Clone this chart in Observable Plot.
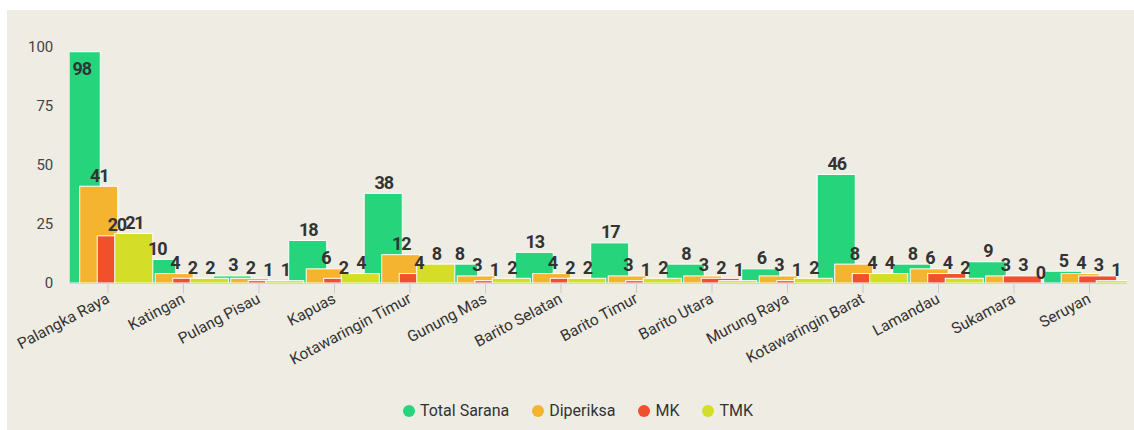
<!DOCTYPE html>
<html>
<head>
<meta charset="utf-8">
<script src="https://cdn.jsdelivr.net/npm/d3@7"></script>
<script src="https://cdn.jsdelivr.net/npm/@observablehq/plot@0.6"></script>
<style>
  html, body { margin: 0; padding: 0; background: #ffffff; }
  #panel { position: absolute; left: 7px; top: 10px; width: 1127px; height: 420px; background: #efece3; font-family: Roboto, sans-serif; }
  #legend { display: flex; justify-content: center; align-items: center; gap: 23px; margin-top: 16px; padding-left: 15px; font-size: 16px; color: #333; line-height: 20px; }
  .item { display: flex; align-items: center; gap: 5px; }
  .dot { width: 12px; height: 12px; border-radius: 50%; display: inline-block; }
  .vlabel text { letter-spacing: -1.2px; }
</style>
</head>
<body>
<div id="panel"><div id="chart"></div><div id="legend"></div></div>
<script>
const categories = ["Palangka Raya", "Katingan", "Pulang Pisau", "Kapuas", "Kotawaringin Timur", "Gunung Mas", "Barito Selatan", "Barito Timur", "Barito Utara", "Murung Raya", "Kotawaringin Barat", "Lamandau", "Sukamara", "Seruyan"];
const totalSarana = [98, 10, 3, 18, 38, 8, 13, 17, 8, 6, 46, 8, 9, 5];
const diperiksa   = [41, 4, 2, 6, 12, 3, 4, 3, 3, 3, 8, 6, 3, 4];
const mk          = [20, 2, 1, 2, 4, 1, 2, 1, 2, 1, 4, 4, 3, 3];
const tmk         = [21, 2, 1, 4, 8, 2, 2, 2, 1, 2, 4, 2, 0, 1];
const seriesNames = ["Total Sarana", "Diperiksa", "MK", "TMK"];
const seriesColors = ["#26d57b", "#f4b42f", "#f0502c", "#d4dd27"];
const yTicks = [0, 25, 50, 75, 100];

const seriesValues = [totalSarana, diperiksa, mk, tmk];
const spacing = 0.232, halfWidth = 0.252;
const rows = [];
seriesValues.forEach((vals, k) => {
  vals.forEach((v, i) => {
    const c = i + 0.5 + (k - 1.5) * spacing;
    rows.push({series: seriesNames[k], k, cat: categories[i], value: v, cx: c, x1: c - halfWidth, x2: c + halfWidth});
  });
});

const chart = Plot.plot({
  width: 1127,
  height: 375,
  marginLeft: 62.75,
  marginRight: 7.25,
  marginTop: 37,
  marginBottom: 102,
  style: {background: "transparent", fontFamily: "Roboto, sans-serif"},
  x: {domain: [0, categories.length], axis: null},
  y: {domain: [0, 100], axis: null},
  color: {domain: seriesNames, range: seriesColors},
  marks: [
    Plot.axisY({ticks: yTicks, tickSize: 0, tickPadding: 17, fontSize: 15, color: "#444", label: null}),
    Plot.axisX({ticks: categories.map((_, i) => i + 0.5), tickFormat: d => categories[Math.floor(d)], tickSize: 10, tickPadding: 4, tickRotate: -28, fontSize: 15.5, color: "#333", stroke: "#c9c9c9", label: null}),
    Plot.ruleY([0], {stroke: "#ccd6eb"}),
    Plot.rectY(rows, {x1: "x1", x2: "x2", y: "value", fill: "series", stroke: "#ffffff", strokeWidth: 1, clip: true}),
    Plot.text(rows.filter(d => d.value < 90), {x: "cx", y: "value", text: d => String(d.value), lineAnchor: "bottom", dy: -5, fontSize: 18, fontWeight: "bold", fill: "#333", className: "vlabel"}),
    Plot.text(rows.filter(d => d.value >= 90), {x: "cx", y: "value", text: d => String(d.value), lineAnchor: "top", dy: 10, fontSize: 18, fontWeight: "bold", fill: "#333", className: "vlabel"})
  ]
});
document.getElementById("chart").appendChild(chart);

const legend = document.getElementById("legend");
seriesNames.forEach((name, k) => {
  const item = document.createElement("div");
  item.className = "item";
  const dot = document.createElement("span");
  dot.className = "dot";
  dot.style.background = seriesColors[k];
  const label = document.createElement("span");
  label.textContent = name;
  item.appendChild(dot);
  item.appendChild(label);
  legend.appendChild(item);
});
</script>
</body>
</html>
